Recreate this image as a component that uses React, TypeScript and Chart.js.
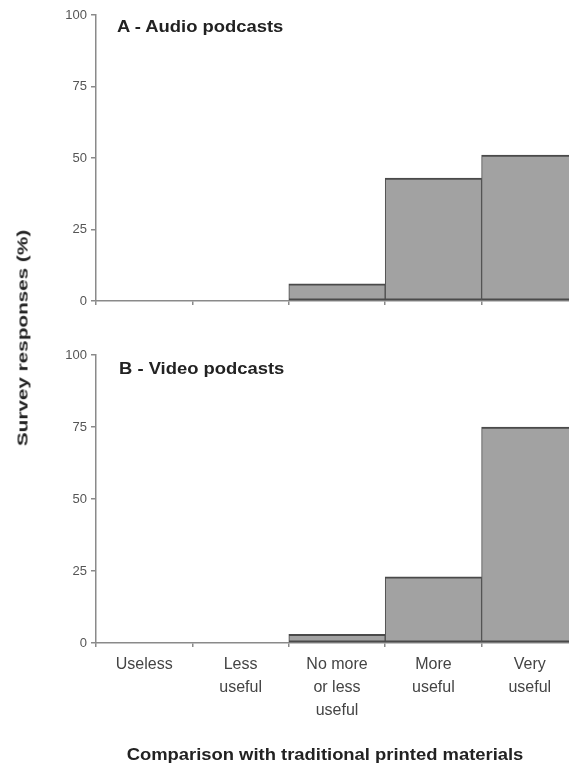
import React, { useEffect, useRef } from "react";
import { Chart, registerables } from "chart.js";

Chart.register(...registerables);

const categories: string[][] = [
  ["Useless"],
  ["Less", "useful"],
  ["No more", "or less", "useful"],
  ["More", "useful"],
  ["Very", "useful"],
];
const audioValues = [0, 0, 6, 43, 51];
const videoValues = [0, 0, 3, 23, 75];
const yTickValues = [0, 25, 50, 75, 100];

const panelTitleA = "A - Audio podcasts";
const panelTitleB = "B - Video podcasts";
const yTitle = "Survey responses (%)";
const xTitle = "Comparison with traditional printed materials";

const FONT = "'Liberation Sans', Arial, sans-serif";
const AXIS = "#8a8a8a";

function buildChart(
  canvas: HTMLCanvasElement,
  values: number[],
  showLabels: boolean,
  padTop: number,
  xHeight: number
) {
  return new Chart(canvas, {
    type: "bar",
    data: {
      labels: categories,
      datasets: [
        {
          data: values,
          backgroundColor: "#a2a2a2",
          borderColor: "#4a4a4a",
          borderWidth: { top: 2, bottom: 2, left: 1, right: 1 },
          borderSkipped: false,
          barPercentage: 1,
          categoryPercentage: 1,
        },
      ],
    },
    options: {
      responsive: false,
      animation: false,
      devicePixelRatio: 1,
      layout: { padding: { top: padTop, right: 22, left: 0, bottom: 0 } },
      plugins: { legend: { display: false }, tooltip: { enabled: false }, title: { display: false } },
      scales: {
        x: {
          type: "category",
          offset: true,
          grid: {
            offset: true,
            drawOnChartArea: false,
            drawTicks: true,
            tickLength: 4,
            color: AXIS,
            lineWidth: 1.5,
          },
          border: { display: true, color: AXIS, width: 1.5 },
          ticks: {
            display: showLabels,
            color: "#444",
            font: { family: FONT, size: 16, lineHeight: 1.45 },
            padding: 6,
            maxRotation: 0,
            minRotation: 0,
            autoSkip: false,
          },
          afterFit: (scale: any) => {
            scale.height = xHeight;
          },
        },
        y: {
          min: 0,
          max: 100,
          afterBuildTicks: (scale: any) => {
            scale.ticks = yTickValues.map((v) => ({ value: v }));
          },
          grid: {
            drawOnChartArea: false,
            drawTicks: true,
            tickLength: 5,
            color: AXIS,
            lineWidth: 1.5,
          },
          border: { display: true, color: AXIS, width: 1.5 },
          ticks: {
            color: "#555",
            font: { family: FONT, size: 13 },
            padding: 4,
          },
          afterFit: (scale: any) => {
            scale.width = 96;
          },
        },
      },
    },
  });
}

export default function App() {
  const topRef = useRef<HTMLCanvasElement>(null);
  const botRef = useRef<HTMLCanvasElement>(null);

  useEffect(() => {
    const c1 = buildChart(topRef.current!, audioValues, false, 15, 19);
    const c2 = buildChart(botRef.current!, videoValues, true, 25, 122);
    return () => {
      c1.destroy();
      c2.destroy();
    };
  }, []);

  const titleStyle: React.CSSProperties = {
    position: "absolute",
    fontFamily: FONT,
    fontWeight: "bold",
    fontSize: 16,
    color: "#222",
    whiteSpace: "nowrap",
    lineHeight: "18px",
    transformOrigin: "left center",
    transform: "scaleX(1.15)",
  };

  return (
    <div
      style={{
        position: "fixed",
        left: 0,
        top: 0,
        width: 569,
        height: 765,
        overflow: "hidden",
        background: "#fff",
      }}
    >
      <canvas ref={topRef} width={600} height={320} style={{ position: "absolute", left: 0, top: 0 }} />
      <canvas ref={botRef} width={600} height={435} style={{ position: "absolute", left: 0, top: 330 }} />
      <div style={{ ...titleStyle, left: 117, top: 18 }}>{panelTitleA}</div>
      <div style={{ ...titleStyle, left: 119, top: 360 }}>{panelTitleB}</div>
      <div
        style={{
          position: "absolute",
          left: 22,
          top: 338,
          fontFamily: FONT,
          fontWeight: "bold",
          fontSize: 15,
          color: "#222",
          whiteSpace: "nowrap",
          transform: "translate(-50%, -50%) rotate(-90deg) scaleX(1.38)",
        }}
      >
        {yTitle}
      </div>
      <div
        style={{
          position: "absolute",
          left: 325,
          top: 755,
          fontFamily: FONT,
          fontWeight: "bold",
          fontSize: 16,
          color: "#222",
          whiteSpace: "nowrap",
          transform: "translate(-50%, -50%) scaleX(1.15)",
        }}
      >
        {xTitle}
      </div>
    </div>
  );
}
